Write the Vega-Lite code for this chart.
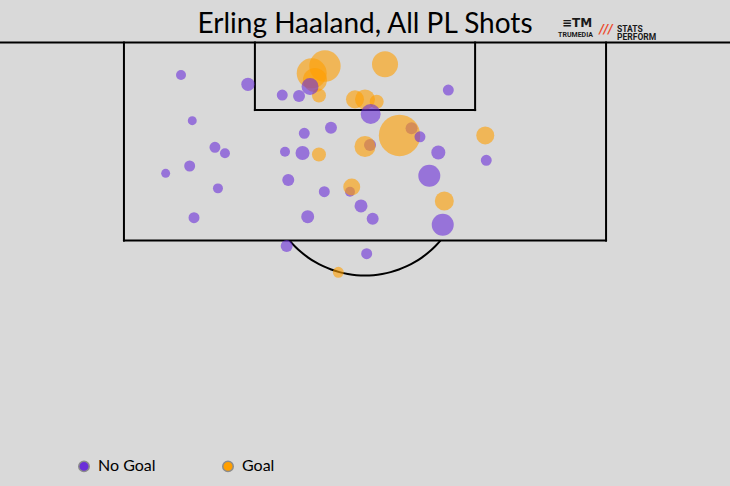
{
  "$schema": "https://vega.github.io/schema/vega-lite/v6.json",
  "width": 730,
  "height": 486,
  "autosize": {"type": "none"},
  "padding": 0,
  "background": "#d9d9d9",
  "config": {"view": {"stroke": null}, "font": "Lato"},
  "title": {
    "text": "Erling Haaland, All PL Shots",
    "font": "Lato",
    "fontSize": 28,
    "fontWeight": "normal",
    "color": "#000000",
    "anchor": "middle",
    "frame": "group",
    "baseline": "alphabetic",
    "offset": -61
  },
  "datasets": {
    "lines": [
      {"x": 21.1, "y": 100, "x2": 21.1, "y2": 83},
      {"x": 21.1, "y": 83, "x2": 78.9, "y2": 83},
      {"x": 78.9, "y": 83, "x2": 78.9, "y2": 100},
      {"x": 36.8, "y": 100, "x2": 36.8, "y2": 94.2},
      {"x": 36.8, "y": 94.2, "x2": 63.2, "y2": 94.2},
      {"x": 63.2, "y": 94.2, "x2": 63.2, "y2": 100},
      {"x": 0, "y": 100, "x2": 100, "y2": 100}
    ],
    "arc": [
      {"x": 40.95, "y": 83.0},
      {"x": 41.61, "y": 82.49},
      {"x": 42.37, "y": 81.99},
      {"x": 43.19, "y": 81.54},
      {"x": 44.06, "y": 81.14},
      {"x": 44.98, "y": 80.80},
      {"x": 45.94, "y": 80.51},
      {"x": 46.93, "y": 80.29},
      {"x": 47.94, "y": 80.13},
      {"x": 48.97, "y": 80.03},
      {"x": 50.0, "y": 80.0},
      {"x": 51.03, "y": 80.03},
      {"x": 52.06, "y": 80.13},
      {"x": 53.07, "y": 80.29},
      {"x": 54.06, "y": 80.51},
      {"x": 55.02, "y": 80.80},
      {"x": 55.94, "y": 81.14},
      {"x": 56.81, "y": 81.54},
      {"x": 57.63, "y": 81.99},
      {"x": 58.39, "y": 82.49},
      {"x": 59.05, "y": 83.0}
    ],
    "shots": [
      {"x": 27.94, "y": 97.21, "xg": 0.052, "outcome": "No Goal"},
      {"x": 35.97, "y": 96.41, "xg": 0.094, "outcome": "No Goal"},
      {"x": 40.08, "y": 95.49, "xg": 0.063, "outcome": "No Goal"},
      {"x": 42.09, "y": 95.41, "xg": 0.075, "outcome": "No Goal"},
      {"x": 29.29, "y": 93.29, "xg": 0.042, "outcome": "No Goal"},
      {"x": 45.92, "y": 92.69, "xg": 0.075, "outcome": "No Goal"},
      {"x": 42.72, "y": 92.21, "xg": 0.063, "outcome": "No Goal"},
      {"x": 59.99, "y": 95.92, "xg": 0.063, "outcome": "No Goal"},
      {"x": 55.58, "y": 92.64, "xg": 0.075, "outcome": "No Goal"},
      {"x": 50.60, "y": 91.20, "xg": 0.075, "outcome": "No Goal"},
      {"x": 48.20, "y": 87.19, "xg": 0.052, "outcome": "No Goal"},
      {"x": 45.20, "y": 97.98, "xg": 0.516, "outcome": "Goal"},
      {"x": 43.61, "y": 97.36, "xg": 0.471, "outcome": "Goal"},
      {"x": 44.00, "y": 96.78, "xg": 0.302, "outcome": "Goal"},
      {"x": 44.48, "y": 95.45, "xg": 0.103, "outcome": "Goal"},
      {"x": 52.40, "y": 98.13, "xg": 0.354, "outcome": "Goal"},
      {"x": 48.80, "y": 95.12, "xg": 0.170, "outcome": "Goal"},
      {"x": 50.00, "y": 95.12, "xg": 0.209, "outcome": "Goal"},
      {"x": 51.40, "y": 94.92, "xg": 0.103, "outcome": "Goal"},
      {"x": 54.14, "y": 92.02, "xg": 0.897, "outcome": "Goal"},
      {"x": 64.42, "y": 92.02, "xg": 0.170, "outcome": "Goal"},
      {"x": 50.00, "y": 91.07, "xg": 0.231, "outcome": "Goal"},
      {"x": 44.48, "y": 90.39, "xg": 0.103, "outcome": "Goal"},
      {"x": 48.41, "y": 87.60, "xg": 0.151, "outcome": "Goal"},
      {"x": 59.51, "y": 86.39, "xg": 0.189, "outcome": "Goal"},
      {"x": 46.80, "y": 80.27, "xg": 0.063, "outcome": "Goal"},
      {"x": 43.41, "y": 96.22, "xg": 0.151, "outcome": "No Goal"},
      {"x": 50.68, "y": 93.86, "xg": 0.209, "outcome": "No Goal"},
      {"x": 56.59, "y": 91.91, "xg": 0.063, "outcome": "No Goal"},
      {"x": 40.41, "y": 90.63, "xg": 0.052, "outcome": "No Goal"},
      {"x": 42.51, "y": 90.52, "xg": 0.103, "outcome": "No Goal"},
      {"x": 58.79, "y": 90.56, "xg": 0.103, "outcome": "No Goal"},
      {"x": 32.01, "y": 91.00, "xg": 0.063, "outcome": "No Goal"},
      {"x": 33.21, "y": 90.49, "xg": 0.052, "outcome": "No Goal"},
      {"x": 28.98, "y": 89.40, "xg": 0.063, "outcome": "No Goal"},
      {"x": 26.10, "y": 88.77, "xg": 0.042, "outcome": "No Goal"},
      {"x": 32.37, "y": 87.48, "xg": 0.052, "outcome": "No Goal"},
      {"x": 40.80, "y": 88.20, "xg": 0.075, "outcome": "No Goal"},
      {"x": 45.12, "y": 87.19, "xg": 0.063, "outcome": "No Goal"},
      {"x": 49.52, "y": 85.97, "xg": 0.088, "outcome": "No Goal"},
      {"x": 50.92, "y": 84.88, "xg": 0.075, "outcome": "No Goal"},
      {"x": 29.50, "y": 84.96, "xg": 0.063, "outcome": "No Goal"},
      {"x": 43.13, "y": 85.05, "xg": 0.088, "outcome": "No Goal"},
      {"x": 40.61, "y": 82.53, "xg": 0.075, "outcome": "No Goal"},
      {"x": 64.54, "y": 89.89, "xg": 0.063, "outcome": "No Goal"},
      {"x": 57.71, "y": 88.57, "xg": 0.253, "outcome": "No Goal"},
      {"x": 59.32, "y": 84.36, "xg": 0.253, "outcome": "No Goal"},
      {"x": 50.20, "y": 81.87, "xg": 0.063, "outcome": "No Goal"}
    ],
    "logo_tm": [{"x": 75.42, "y": 101.67, "label": "≡TM"}],
    "logo_tm_text": [{"x": 75.24, "y": 100.67, "label": "TRUMEDIA"}],
    "logo_sp_mark": [{"x": 78.90, "y": 101.16, "label": "///"}],
    "logo_sp_text": [
      {"x": 80.22, "y": 101.16, "label": "STATS\nPERFORM"}
    ]
  },
  "layer": [
    {
      "data": {"name": "lines"},
      "mark": {"type": "rule", "color": "#000000", "strokeWidth": 2, "strokeCap": "square", "clip": true},
      "encoding": {
        "x": {"field": "x", "type": "quantitative", "scale": {"domain": [6.24, 93.76], "nice": false, "zero": false}, "axis": null},
        "y": {"field": "y", "type": "quantitative", "scale": {"domain": [61.93, 103.65], "nice": false, "zero": false}, "axis": null},
        "x2": {"field": "x2"},
        "y2": {"field": "y2"}
      }
    },
    {
      "data": {"name": "arc"},
      "mark": {"type": "line", "color": "#000000", "strokeWidth": 2, "interpolate": "monotone"},
      "encoding": {
        "x": {"field": "x", "type": "quantitative"},
        "y": {"field": "y", "type": "quantitative"}
      }
    },
    {
      "data": {"name": "shots"},
      "mark": {"type": "point", "shape": "circle", "filled": true, "opacity": 0.6, "strokeWidth": 0},
      "encoding": {
        "x": {"field": "x", "type": "quantitative"},
        "y": {"field": "y", "type": "quantitative"},
        "size": {"field": "xg", "type": "quantitative", "scale": {"domain": [0, 1], "range": [0, 1910]}, "legend": null},
        "color": {
          "field": "outcome",
          "type": "nominal",
          "scale": {"domain": ["No Goal", "Goal"], "range": ["#6a2fd8", "#ff9f00"]},
          "legend": {
            "title": null,
            "orient": "none",
            "direction": "horizontal",
            "legendX": 76,
            "legendY": 458,
            "symbolType": "circle",
            "symbolSize": 110,
            "symbolOpacity": 1,
            "symbolStrokeColor": "#8c8c8c",
            "symbolStrokeWidth": 1.5,
            "labelFont": "Lato",
            "labelFontSize": 16,
            "labelColor": "#000000",
            "labelOffset": 6,
            "columnPadding": 63
          }
        }
      }
    },
    {
      "data": {"name": "logo_tm"},
      "mark": {"type": "text", "font": "DejaVu Sans", "fontWeight": "bold", "fontSize": 12, "color": "#1a1a1a", "align": "center", "baseline": "middle"},
      "encoding": {
        "x": {"field": "x", "type": "quantitative"},
        "y": {"field": "y", "type": "quantitative"},
        "text": {"field": "label"}
      }
    },
    {
      "data": {"name": "logo_tm_text"},
      "mark": {"type": "text", "font": "Roboto", "fontWeight": "bold", "fontSize": 7, "color": "#1a1a1a", "align": "center", "baseline": "middle", "letterSpacing": 0.8},
      "encoding": {
        "x": {"field": "x", "type": "quantitative"},
        "y": {"field": "y", "type": "quantitative"},
        "text": {"field": "label"}
      }
    },
    {
      "data": {"name": "logo_sp_mark"},
      "mark": {"type": "text", "font": "DejaVu Sans", "fontWeight": "bold", "fontStyle": "italic", "fontSize": 12, "color": "#ec4a2c", "align": "center", "baseline": "middle", "letterSpacing": -3},
      "encoding": {
        "x": {"field": "x", "type": "quantitative"},
        "y": {"field": "y", "type": "quantitative"},
        "text": {"field": "label"}
      }
    },
    {
      "data": {"name": "logo_sp_text"},
      "mark": {"type": "text", "font": "Roboto", "fontWeight": "bold", "fontSize": 8.5, "color": "#1a1a1a", "align": "left", "baseline": "middle", "letterSpacing": -0.2, "lineBreak": "\n", "lineHeight": 8},
      "encoding": {
        "x": {"field": "x", "type": "quantitative"},
        "y": {"field": "y", "type": "quantitative"},
        "text": {"field": "label"}
      }
    }
  ]
}
